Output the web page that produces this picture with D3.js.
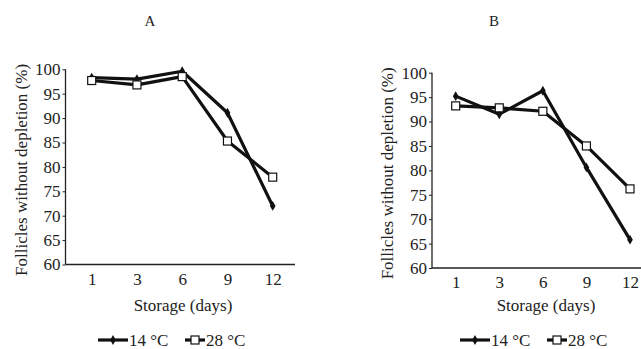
<!DOCTYPE html>
<html>
<head>
<meta charset="utf-8">
<script src="https://cdn.jsdelivr.net/npm/d3@7"></script>
<style>
  body { margin: 0; background: #fff; }
  svg text { font-family: "Liberation Serif", "DejaVu Serif", serif; fill: #222; }
</style>
</head>
<body>
<div id="chart"></div>
<script>
// data
const days = ['1', '3', '6', '9', '12'];
const yTicks = [60, 65, 70, 75, 80, 85, 90, 95, 100];
const seriesNames = ['14 °C', '28 °C'];
const panelA14 = [98.3, 98.0, 99.6, 91.1, 72.0];
const panelA28 = [97.7, 96.8, 98.5, 85.3, 77.9];
const panelB14 = [95.2, 91.5, 96.3, 80.6, 65.8];
const panelB28 = [93.2, 92.8, 92.1, 85.0, 76.2];

const svg = d3.select('#chart').append('svg')
    .attr('width', 641)
    .attr('height', 349);

// layout for each panel
const panels = [
    { title: 'A', s14: panelA14, s28: panelA28,
      axisX: 65.5, axisEnd: 295, x0: 91.7, x1: 272.7, yTop: 69.3, yBot: 264.5,
      titleX: 150, ylabX: 21, xlabX: 183, legX: 98 },
    { title: 'B', s14: panelB14, s28: panelB28,
      axisX: 432, axisEnd: 641, x0: 455.7, x1: 630, yTop: 72.7, yBot: 268,
      titleX: 494, ylabX: 387, xlabX: 546, legX: 460 }
];

const fs = '17px';

panels.forEach(p => {
    let x = d3.scalePoint().domain(days)
        .range([p.x0, p.x1]);
    let y = d3.scaleLinear().domain([60, 100]).range([p.yBot, p.yTop]);

    let g = svg.append('g');

    // title
    g.append('text')
        .attr('x', p.titleX).attr('y', 26)
        .attr('text-anchor', 'middle')
        .style('font-size', '15px')
        .text(p.title);

    // y axis
    let yAxis = g.append('g')
        .attr('transform', `translate(${p.axisX},0)`)
        .call(d3.axisLeft(y).tickValues(yTicks).tickSize(3).tickPadding(2));
    yAxis.select('.domain').attr('stroke', '#222').attr('stroke-width', 1.3)
        .attr('d', `M0,${p.yTop}V${p.yBot}`);
    yAxis.selectAll('.tick line').attr('stroke', '#222');
    yAxis.selectAll('.tick text').style('font-size', fs).attr('fill', '#222');

    // x axis (no tick marks)
    let xAxis = g.append('g')
        .attr('transform', `translate(0,${p.yBot})`)
        .call(d3.axisBottom(x).tickSize(0).tickPadding(8));
    xAxis.select('.domain').attr('stroke', '#222').attr('stroke-width', 1.3)
        .attr('d', `M${p.axisX},0H${p.axisEnd}`);
    xAxis.selectAll('.tick text').style('font-size', fs).attr('fill', '#222');

    // axis labels
    g.append('text')
        .attr('transform', `translate(${p.ylabX},${(p.yTop + p.yBot) / 2 + 3}) rotate(-90)`)
        .attr('text-anchor', 'middle')
        .attr('dy', '0.35em')
        .style('font-size', fs)
        .text('Follicles without depletion (%)');

    g.append('text')
        .attr('x', p.xlabX).attr('y', 311)
        .attr('text-anchor', 'middle')
        .style('font-size', fs)
        .text('Storage (days)');

    let line = d3.line()
        .x((d, i) => x(days[i]))
        .y(d => y(d));

    // 14 °C series - filled diamonds
    g.append('path').datum(p.s14)
        .attr('d', line)
        .attr('fill', 'none').attr('stroke', '#111').attr('stroke-width', 3.2)
        .attr('stroke-linejoin', 'round');
    g.selectAll('.d14').data(p.s14).enter().append('path')
        .attr('class', 'd14')
        .attr('transform', (d, i) => `translate(${x(days[i])},${y(d)})`)
        .attr('d', d3.symbol(d3.symbolDiamond, 28))
        .attr('fill', '#111');

    // 28 °C series - open squares
    g.append('path').datum(p.s28)
        .attr('d', line)
        .attr('fill', 'none').attr('stroke', '#111').attr('stroke-width', 3.2)
        .attr('stroke-linejoin', 'round');
    g.selectAll('.s28').data(p.s28).enter().append('rect')
        .attr('class', 's28')
        .attr('x', (d, i) => x(days[i]) - 4)
        .attr('y', d => y(d) - 4)
        .attr('width', 8).attr('height', 8)
        .attr('fill', '#fff').attr('stroke', '#111').attr('stroke-width', 1.2);

    // legend
    let ly = 340;
    let leg = g.append('g');
    leg.append('line')
        .attr('x1', p.legX).attr('x2', p.legX + 30)
        .attr('y1', ly).attr('y2', ly)
        .attr('stroke', '#111').attr('stroke-width', 3.2);
    leg.append('path')
        .attr('transform', `translate(${p.legX + 15},${ly})`)
        .attr('d', d3.symbol(d3.symbolDiamond, 28))
        .attr('fill', '#111');
    leg.append('text')
        .attr('x', p.legX + 31).attr('y', ly).attr('dy', '0.35em')
        .style('font-size', fs)
        .text(seriesNames[0]);

    let l2 = p.legX + 87;
    leg.append('line')
        .attr('x1', l2).attr('x2', l2 + 20)
        .attr('y1', ly).attr('y2', ly)
        .attr('stroke', '#111').attr('stroke-width', 3.2);
    leg.append('rect')
        .attr('x', l2 + 6).attr('y', ly - 4)
        .attr('width', 8).attr('height', 8)
        .attr('fill', '#fff').attr('stroke', '#111').attr('stroke-width', 1.2);
    leg.append('text')
        .attr('x', l2 + 21).attr('y', ly).attr('dy', '0.35em')
        .style('font-size', fs)
        .text(seriesNames[1]);
});
</script>
</body>
</html>
